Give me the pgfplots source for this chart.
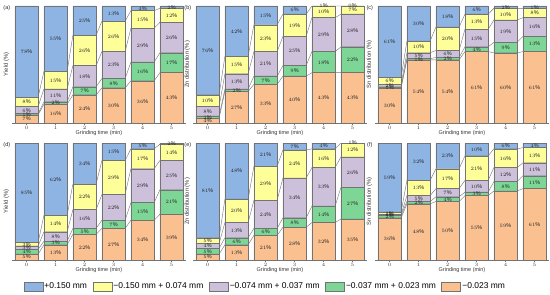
\documentclass[border=0pt]{standalone}
\usepackage{pgfplots}
\pgfplotsset{compat=1.18}
\usepackage{pgfplotstable}
\usepackage{fontspec}
\setmainfont{Liberation Sans}
\definecolor{cB}{RGB}{141,180,226}
\definecolor{cY}{RGB}{255,255,153}
\definecolor{cP}{RGB}{204,192,218}
\definecolor{cG}{RGB}{125,214,150}
\definecolor{cO}{RGB}{250,192,144}
\definecolor{edge}{RGB}{115,115,115}

% columns: x (line pos), t (bar pos), or gr pu ye bl (heights), lb (blue label)
\pgfplotstableread{
x t or gr pu ye bl lb
-0.4 0 7 1 6 8 78 78
0.4 0 7 1 6 8 78 78
0.6 1 16 2 11 15 56 55
1.4 1 16 2 11 15 56 55
1.6 2 24 7 18 26 25 25
2.4 2 24 7 18 26 25 25
2.6 3 30 8 23 26 13 13
3.4 3 30 8 23 26 13 13
3.6 4 36 16 29 15 4 4
4.4 4 36 16 29 15 4 4
4.6 5 43 17 26 12 2 2
5.4 5 43 17 26 12 2 2
}\tA
\pgfplotstableread{
x t or gr pu ye bl lb
-0.4 0 4 2 8 10 76 76
0.4 0 4 2 8 10 76 76
0.6 1 27 2 13 15 43 42
1.4 1 27 2 13 15 43 42
1.6 2 33 7 21 23 16 15
2.4 2 33 7 21 23 16 15
2.6 3 40 9 25 19 7 6
3.4 3 40 9 25 19 7 6
3.6 4 43 18 29 10 0 1
4.4 4 43 18 29 10 0 1
4.6 5 43 22 28 7 0 0
5.4 5 43 22 28 7 0 0
}\tB
\pgfplotstableread{
x t or gr pu ye bl lb
-0.4 0 30 1 2 6 61 61
0.4 0 30 1 2 6 61 61
0.6 1 54 1 5 10 30 30
1.4 1 54 1 5 10 30 30
1.6 2 54 2 6 20 18 18
2.4 2 54 2 6 20 18 18
2.6 3 61 4 15 13 7 6
3.4 3 61 4 15 13 7 6
3.6 4 60 9 19 10 2 2
4.4 4 60 9 19 10 2 2
4.6 5 61 13 16 8 2 1
5.4 5 61 13 16 8 2 1
}\tC
\pgfplotstableread{
x t or gr pu ye bl lb
-0.4 0 5 4 3 3 85 85
0.4 0 5 4 3 3 85 85
0.6 1 13 3 8 14 62 62
1.4 1 13 3 8 14 62 62
1.6 2 22 5 16 22 35 34
2.4 2 22 5 16 22 35 34
2.6 3 27 7 22 29 15 15
3.4 3 27 7 22 29 15 15
3.6 4 34 15 29 17 5 5
4.4 4 34 15 29 17 5 5
4.6 5 39 21 25 14 1 2
5.4 5 39 21 25 14 1 2
}\tD
\pgfplotstableread{
x t or gr pu ye bl lb
-0.4 0 5 5 4 5 81 81
0.4 0 5 5 4 5 81 81
0.6 1 13 6 13 20 48 48
1.4 1 13 6 13 20 48 48
1.6 2 21 6 24 29 20 21
2.4 2 21 6 24 29 20 21
2.6 3 28 8 34 24 6 7
3.4 3 28 8 34 24 6 7
3.6 4 32 14 33 16 5 4
4.4 4 32 14 33 16 5 4
4.6 5 35 27 26 12 0 1
5.4 5 35 27 26 12 0 1
}\tE
\pgfplotstableread{
x t or gr pu ye bl lb
-0.4 0 36 2 1 2 59 59
0.4 0 36 2 1 2 59 59
0.6 1 48 2 5 13 32 32
1.4 1 48 2 5 13 32 32
1.6 2 50 4 7 17 22 23
2.4 2 50 4 7 17 22 23
2.6 3 55 3 10 21 11 10
3.4 3 55 3 10 21 11 10
3.6 4 59 8 12 16 5 6
4.4 4 59 8 12 16 5 6
4.6 5 61 11 11 13 4 4
5.4 5 61 11 11 13 4 4
}\tF

\pgfplotsset{
 base/.style={scale only axis, width=174bp, height=117bp, anchor=south west,
   xmin=-0.5, xmax=5.5, ymin=0, ymax=100},
 bars/.style={base, ybar stacked, bar width=0.8, clip=false,
   axis x line*=bottom, axis y line*=left, ytick=\empty,
   y axis line style={draw=none}, x axis line style={edge, line width=0.4bp},
   xtick={0,...,5}, tick align=outside, major tick length=1.5bp,
   tick style={edge, line width=0.4bp},
   xticklabel style={font=\fontsize{5}{5}\selectfont, inner sep=0pt, yshift=-1.2bp, text=black!80},
   xlabel={Grinding time (min)},
   every axis x label/.style={at={(rel axis cs:0.5,0)}, anchor=north, yshift=-7.5bp,
     inner sep=0pt, font=\fontsize{5.5}{6}\selectfont, text=black!80},
   every axis y label/.style={at={(rel axis cs:-0.016,0.5)}, rotate=90, anchor=south,
     inner sep=0pt, font=\fontsize{5.8}{6}\selectfont, text=black!80},
 },
 labs/.style={base, hide axis, clip=false,
   nodes near coords={\pgfmathprintnumber{\pgfplotspointmeta}\%},
   every node near coord/.append style={font=\fontsize{5.5}{6}\selectfont, anchor=center,
     inner sep=0pt, text=black!85}},
}
\newcommand\seg[3]{\addplot[fill=#2, draw=edge, line width=0.4bp, each nth point=2,
  filter discard warning=false] table[x=t,y=#1]{#3};}
\newcommand\lab[3]{\addplot[only marks, mark=none, each nth point=2,
  filter discard warning=false, point meta=\thisrow{#1}] table[x=t, y expr={#2}]{#3};}
\newcommand\panel[5]{%
\begin{axis}[bars, at={(#4,#5)}, ylabel={#2}]
\seg{or}{cO}{#1}
\seg{gr}{cG}{#1}
\seg{pu}{cP}{#1}
\seg{ye}{cY}{#1}
\seg{bl}{cB}{#1}
\node[font=\fontsize{5.5}{6}\selectfont, text=black!85] at (rel axis cs:-0.03,0.985) {(#3)};
\end{axis}
\begin{axis}[base, at={(#4,#5)}, hide axis, stack plots=y]
\addplot[edge, line width=0.4bp, no marks] table[x=x,y=or]{#1};
\addplot[edge, line width=0.4bp, no marks] table[x=x,y=gr]{#1};
\addplot[edge, line width=0.4bp, no marks] table[x=x,y=pu]{#1};
\addplot[edge, line width=0.4bp, no marks] table[x=x,y=ye]{#1};
\end{axis}
\begin{axis}[labs, at={(#4,#5)}]
\lab{or}{\thisrow{or}/2}{#1}
\lab{gr}{\thisrow{or}+\thisrow{gr}/2}{#1}
\lab{pu}{\thisrow{or}+\thisrow{gr}+\thisrow{pu}/2}{#1}
\lab{ye}{\thisrow{or}+\thisrow{gr}+\thisrow{pu}+\thisrow{ye}/2}{#1}
\lab{lb}{\thisrow{or}+\thisrow{gr}+\thisrow{pu}+\thisrow{ye}+\thisrow{bl}/2}{#1}
\end{axis}}

\begin{document}
\begin{tikzpicture}[x=1bp,y=1bp]
\useasboundingbox (0,0) rectangle (550,294);
\panel{\tA}{Yield (\%)}{a}{12bp}{171bp}
\panel{\tB}{Zn distribution (\%)}{b}{193bp}{171bp}
\panel{\tC}{Sn distribution (\%)}{c}{375bp}{171bp}
\panel{\tD}{Yield (\%)}{d}{12bp}{34bp}
\panel{\tE}{Zn distribution (\%)}{e}{193bp}{34bp}
\panel{\tF}{Sn distribution (\%)}{f}{375bp}{34bp}
\begin{axis}[at={(265bp,7.3bp)}, anchor=center, scale only axis, width=10bp, height=5bp,
  hide axis, xmin=0, xmax=1, ymin=0, ymax=1, legend columns=5,
  legend style={at={(0.5,0.5)}, anchor=center, draw=none, fill=none,
    font=\fontsize{8.5}{9}\selectfont, inner sep=0pt,
    /tikz/every even column/.append style={column sep=4bp},
    nodes={inner sep=1.5bp}},
  legend cell align=left,
  legend image code/.code={\draw[#1] (0bp,-4.3bp) rectangle (19bp,4.3bp);}]
\addlegendimage{fill=cB, draw=edge, line width=0.4bp}\addlegendentry{+0.150 mm}
\addlegendimage{fill=cY, draw=edge, line width=0.4bp}\addlegendentry{−0.150 mm + 0.074 mm}
\addlegendimage{fill=cP, draw=edge, line width=0.4bp}\addlegendentry{−0.074 mm + 0.037 mm}
\addlegendimage{fill=cG, draw=edge, line width=0.4bp}\addlegendentry{−0.037 mm + 0.023 mm}
\addlegendimage{fill=cO, draw=edge, line width=0.4bp}\addlegendentry{−0.023 mm}
\end{axis}
\end{tikzpicture}
\end{document}
